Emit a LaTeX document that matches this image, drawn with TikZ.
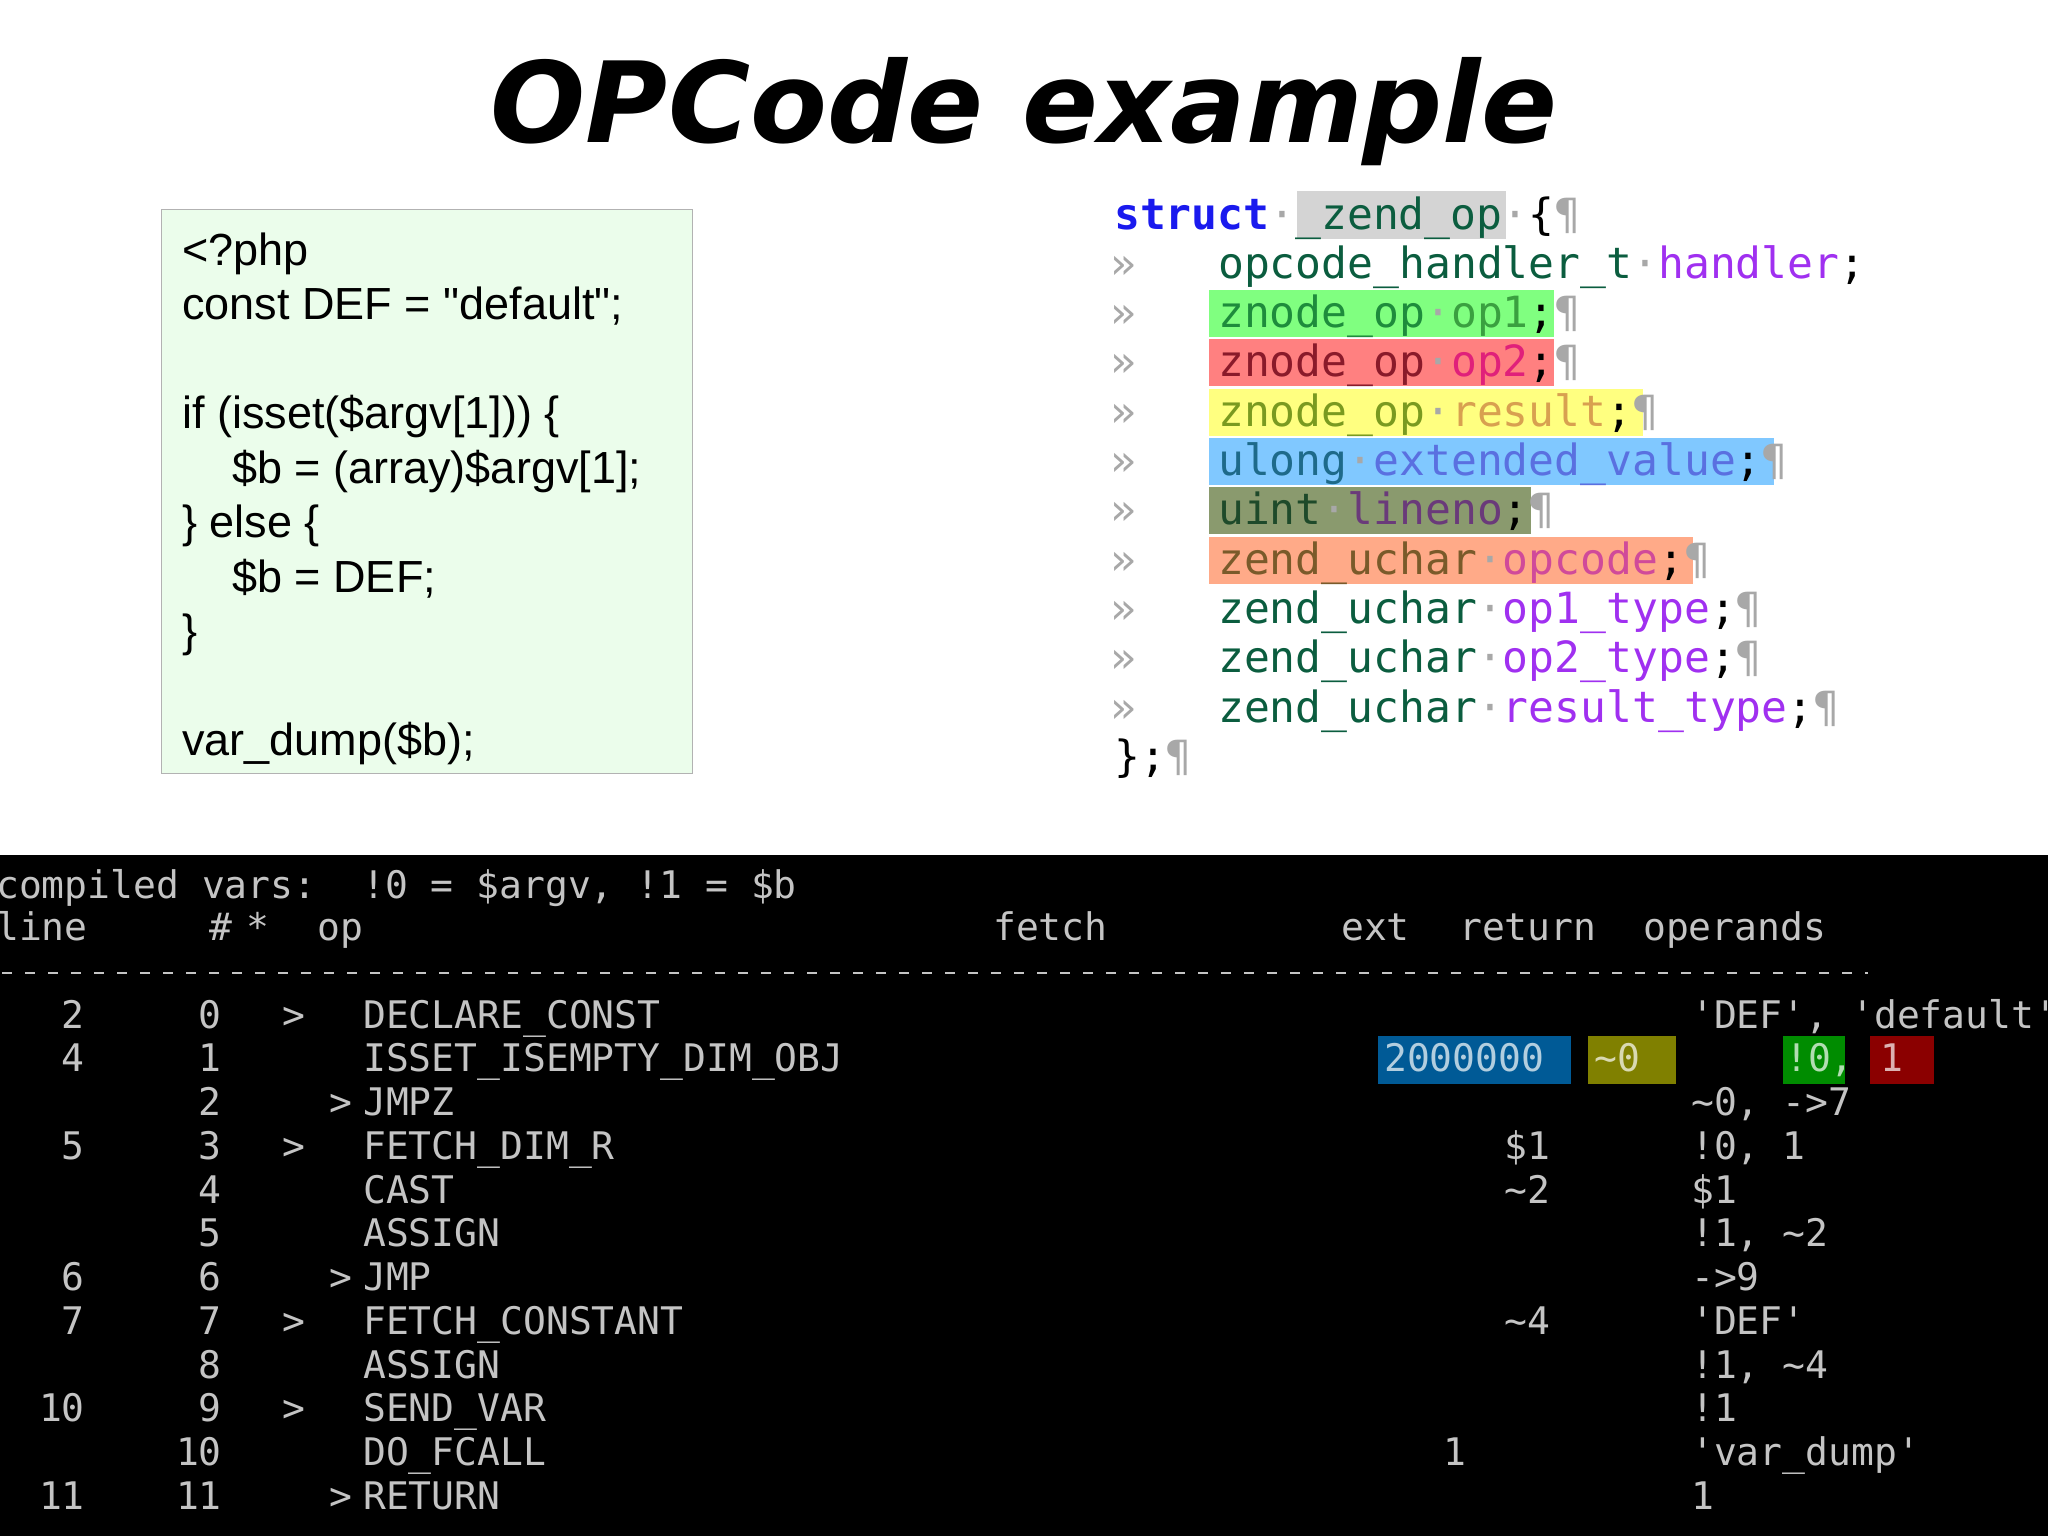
\documentclass[tikz,border=0pt]{standalone}
\usepackage{fontspec}
\newfontfamily\titlef{DejaVu Sans}
\newfontfamily\phpf{Liberation Sans}
\newfontfamily\codef{DejaVu Sans Mono}
\definecolor{kw}{HTML}{0B5D3F}
\definecolor{id}{HTML}{A030F0}
\definecolor{sb}{HTML}{1A1AEE}
\definecolor{dt}{HTML}{A8A8A8}
\definecolor{tg}{HTML}{C4C4C4}
\definecolor{hg}{HTML}{80FF80}
\definecolor{hr}{HTML}{FF8080}
\definecolor{hy}{HTML}{FFFF80}
\definecolor{hb}{HTML}{80C8FF}
\definecolor{ho}{HTML}{8A9A6E}
\definecolor{hs}{HTML}{FFAA88}
\definecolor{tb}{HTML}{005A96}
\definecolor{to}{HTML}{808000}
\definecolor{tgr}{HTML}{008C00}
\definecolor{tr}{HTML}{8B0000}
\definecolor{phpbg}{HTML}{EBFDEB}
\newcommand{\dd}{\textcolor{dt}{·}}
\newcommand{\pp}{\textcolor{dt}{¶}}
\newcommand{\hc}[2]{\textcolor[HTML]{#1}{#2}}
\begin{document}
\begin{tikzpicture}[x=1pt,y=-1pt,
  code/.style={anchor=base west,inner sep=0pt,font=\codef\fontsize{43}{43}\selectfont},
  term/.style={anchor=base west,inner sep=0pt,text=tg,font=\codef\fontsize{38}{38}\selectfont},
  termr/.style={term,anchor=base east},
  php/.style={anchor=base west,inner sep=0pt,font=\phpf\fontsize{45}{45}\selectfont}]
\useasboundingbox (0,0) rectangle (2048,1536);
\begin{scope}
\clip (0,0) rectangle (2048,1536);
% title
\node[font=\titlef\bfseries\itshape\fontsize{112}{112}\selectfont] (title) at (1024,112) {OPCode example};
% php box
\draw[draw=black!30,fill=phpbg,line width=1pt] (161,209) rectangle (692,773);
\foreach \t/\i/\x in {{<?php}/0/182,{const DEF = "default";}/1/182,{if (isset(\$argv[1])) \{}/3/182,{\$b = (array)\$argv[1];}/4/232,{\} else \{}/5/182,{\$b = DEF;}/6/232,{\}}/7/182,{var\_dump(\$b);}/9/182}
  \node[php] at (\x,265+54.5*\i) {\t};
% struct highlights
\fill[black!17] (1297,191) rectangle (1506,239);
\fill[hg] (1209,290) rectangle (1554,337);
\fill[hr] (1209,339) rectangle (1554,386);
\fill[hy] (1209,389) rectangle (1643,436);
\fill[hb] (1209,438) rectangle (1774,485);
\fill[ho] (1209,487) rectangle (1531,534);
\fill[hs] (1209,537) rectangle (1693,584);
\node[code] at (1114,229) {\textcolor{sb}{\bfseries struct}\dd\textcolor{kw}{\_zend\_op}\dd\{\pp};
\foreach \i in {1,...,10} \node[code,text=dt] at (1110,229+49.3*\i) {»};
\node[code] at (1218,278.3) {\textcolor{kw}{opcode\_handler\_t}\dd\textcolor{id}{handler};};
\node[code] at (1218,327.6) {\hc{1E8C3C}{znode\_op}\dd\hc{3AA040}{op1};\pp};
\node[code] at (1218,376.9) {\hc{8A1A2A}{znode\_op}\dd\hc{E0207A}{op2};\pp};
\node[code] at (1218,426.2) {\hc{7A9A20}{znode\_op}\dd\hc{D8A050}{result};\pp};
\node[code] at (1218,475.5) {\hc{1E6A8A}{ulong}\dd\hc{5A70E0}{extended\_value};\pp};
\node[code] at (1218,524.8) {\hc{1E4A2A}{uint}\dd\hc{6A3A7A}{lineno};\pp};
\node[code] at (1218,574.1) {\hc{7A5A2A}{zend\_uchar}\dd\hc{D04A9A}{opcode};\pp};
\node[code] at (1218,623.4) {\textcolor{kw}{zend\_uchar}\dd\textcolor{id}{op1\_type};\pp};
\node[code] at (1218,672.7) {\textcolor{kw}{zend\_uchar}\dd\textcolor{id}{op2\_type};\pp};
\node[code] at (1218,722.0) {\textcolor{kw}{zend\_uchar}\dd\textcolor{id}{result\_type};\pp};
\node[code] at (1114,771.3) {\};\pp};
% terminal
\fill[black] (0,855) rectangle (2048,1536);
\node[term] at (-4,898) {compiled vars:\ \ !0 = \$argv, !1 = \$b};
\node[term] at (-4,940) {line};
\node[term] at (209,940) {\#};
\node[term] at (246,940) {*};
\node[term] at (317,940) {op};
\node[term] at (993,940) {fetch};
\node[term] at (1341,940) {ext};
\node[term] at (1459,940) {return};
\node[term] at (1643,940) {operands};
\draw[tg,line width=2pt,dash pattern=on 10pt off 13pt] (2,973) -- (1868,973);
% highlight boxes row 1
\fill[tb] (1378,1036) rectangle (1571,1084);
\fill[to] (1588,1036) rectangle (1676,1084);
\fill[tgr] (1783,1036) rectangle (1845,1084);
\fill[tr] (1870,1036) rectangle (1934,1084);
\foreach \r/\l/\n/\g/\gx/\o/\f/\fx/\p in {
 0/2/0/>/282/DECLARE\_CONST//1504/{'DEF', 'default'},
 1/4/1///ISSET\_ISEMPTY\_DIM\_OBJ//1504/,
 2//2/>/329/JMPZ//1504/{\textasciitilde 0, ->7},
 3/5/3/>/282/FETCH\_DIM\_R/\$1/1504/{!0, 1},
 4//4///CAST/\textasciitilde 2/1504/\$1,
 5//5///ASSIGN//1504/{!1, \textasciitilde 2},
 6/6/6/>/329/JMP//1504/->9,
 7/7/7/>/282/FETCH\_CONSTANT/\textasciitilde 4/1504/'DEF',
 8//8///ASSIGN//1504/{!1, \textasciitilde 4},
 9/10/9/>/282/SEND\_VAR//1504/!1,
 10//10///DO\_FCALL/1/1443/'var\_dump',
 11/11/11/>/329/RETURN//1504/1}{
  \node[termr] at (85,1028+43.75*\r) {\l};
  \node[termr] at (222,1028+43.75*\r) {\n};
  \ifx\gx\empty\else\node[term] at (\gx,1028+43.75*\r) {\g};\fi
  \node[term] at (363,1028+43.75*\r) {\o};
  \node[term] at (\fx,1028+43.75*\r) {\f};
  \node[term] at (1691,1028+43.75*\r) {\p};
}
\node[term,text=tb!30] at (1384,1071.75) {2000000};
\node[term,text=to!30] at (1594,1071.75) {\textasciitilde 0};
\node[term,text=tgr!30] at (1785,1071.75) {!0,};
\node[term,text=tr!30] at (1880,1071.75) {1};
\end{scope}
\end{tikzpicture}
\end{document}
